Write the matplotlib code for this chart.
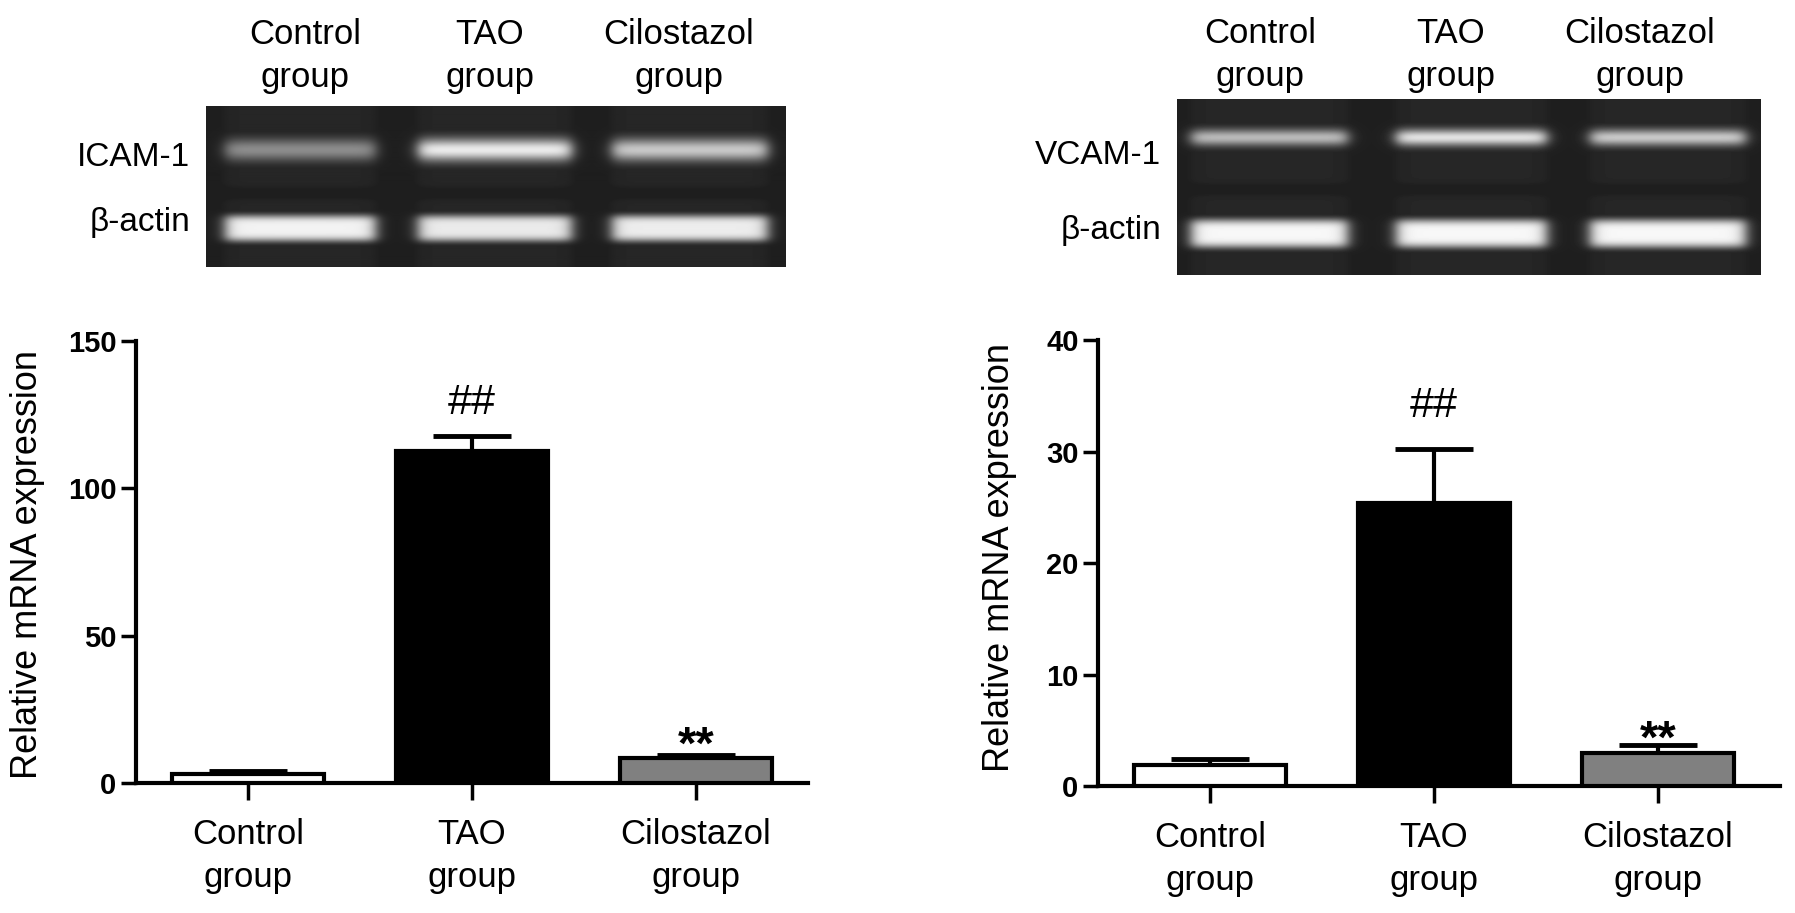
import numpy as np
import matplotlib.pyplot as plt

plt.rcParams['font.family'] = ['Liberation Sans', 'DejaVu Sans']

# bar chart data
groups = ['Control\ngroup', 'TAO\ngroup', 'Cilostazol\ngroup']
icam_mean = [3.2, 112.6, 8.6]
icam_sem = [0.8, 5.0, 0.9]
vcam_mean = [1.85, 25.4, 3.0]
vcam_sem = [0.6, 4.8, 0.7]
icam_ticks = [0, 50, 100, 150]
vcam_ticks = [0, 10, 20, 30, 40]
sig_marks = ['', '##', '**']
bar_colors = ['white', 'black', '#808080']

# gel band brightness per lane (0 = black, 1 = white)
icam_band = [0.55, 0.92, 0.78]
icam_actin = [0.95, 0.92, 0.93]
vcam_band = [0.72, 0.88, 0.78]
vcam_actin = [0.97, 0.97, 0.97]

W, H = 1795, 913
fig = plt.figure(figsize=(W / 100, H / 100), dpi=100)


def px_axes(x0, y0, x1, y1):
    return fig.add_axes([x0 / W, 1 - y1 / H, (x1 - x0) / W, (y1 - y0) / H])


def gel(box, lanes, rows, bright, names, name_y, col_x, col_y):
    x0, y0, x1, y1 = box
    w, h = x1 - x0, y1 - y0
    yy, xx = np.mgrid[0:h, 0:w]
    img = np.full((h, w), 0.05)
    for lx0, lx1 in lanes:
        lane = 1 / (1 + np.exp(-(xx - lx0 + 10) / 6)) / (1 + np.exp((xx - lx1 - 10) / 6))
        img = np.maximum(img, 0.05 + 0.10 * lane)
    # darker strip between the two rows
    mid = (rows[0][0] + rows[1][0]) / 2 + 4
    img -= 0.05 * np.exp(-0.5 * ((yy - mid) / 4) ** 2)
    for (cy, sig, pw), vals in zip(rows, bright):
        for (lx0, lx1), b in zip(lanes, vals):
            xp = 1 / (1 + np.exp(-(xx - lx0) / 4)) / (1 + np.exp((xx - lx1) / 4))
            yp = np.exp(-0.5 * np.abs((yy - cy) / sig) ** pw)
            img = np.maximum(img, 0.12 + (b - 0.12) * xp * yp)
    ax = px_axes(*box)
    ax.imshow(img, cmap='gray', vmin=0, vmax=1, aspect='auto', interpolation='bilinear')
    ax.axis('off')
    # row labels and column labels
    for name, ny in zip(names, name_y):
        fig.text((x0 - 16) / W, 1 - ny / H, name, ha='right', va='center', fontsize=24)
    for cx, g in zip(col_x, groups):
        fig.text(cx / W, 1 - col_y / H, g, ha='center', va='center',
                 fontsize=25, linespacing=1.4)


gel((206, 106, 786, 267), [(19, 169), (212, 365), (406, 561)],
    [(44, 8, 2), (122, 11, 4)], [icam_band, icam_actin], ['ICAM-1', 'β-actin'],
    [157, 222], [305, 490, 679], 56)
gel((1177, 99, 1761, 275), [(14, 170), (219, 369), (413, 568)],
    [(38, 6, 2), (134, 12, 4)], [vcam_band, vcam_actin], ['VCAM-1', 'β-actin'],
    [155, 230], [1260, 1451, 1640], 55)


def bar_panel(ax, means, sems, ticks, xmax, hash_off, star_off):
    x = np.arange(len(groups))
    ax.bar(x, means, width=0.68, color=bar_colors, edgecolor='black', linewidth=3, zorder=3)
    ax.errorbar(x, means, yerr=[np.zeros(len(sems)), sems], fmt='none', ecolor='black',
                elinewidth=3, capsize=28, capthick=3.5, zorder=2)
    for xi, m, s, mark in zip(x, means, sems, sig_marks):
        if mark == '##':
            ax.annotate(mark, (xi, m + s), xytext=(0, hash_off), textcoords='offset points',
                        ha='center', va='center', fontsize=31)
        elif mark == '**':
            ax.annotate(mark, (xi, m + s), xytext=(0, star_off), textcoords='offset points',
                        ha='center', va='center', fontsize=34, fontweight='bold')
    ax.set_xlim(-0.5, xmax)
    ax.set_ylim(ticks[0], ticks[-1])
    ax.set_yticks(ticks)
    ax.set_xticks(x)
    ax.set_xticklabels(groups, fontsize=25, linespacing=1.4)
    for sp in ['top', 'right']:
        ax.spines[sp].set_visible(False)
    for sp in ['left', 'bottom']:
        ax.spines[sp].set_linewidth(3)
    ax.tick_params(axis='y', direction='out', length=11, width=2.5, pad=3, labelsize=21)
    ax.tick_params(axis='x', direction='out', length=12, width=2.5, pad=13)
    for lbl in ax.get_yticklabels():
        lbl.set_fontweight('bold')
    ax.set_ylabel('Relative mRNA expression', fontsize=26, va='center')


ax1 = px_axes(136, 341, 808, 783)
bar_panel(ax1, icam_mean, icam_sem, icam_ticks, 2.5, 24, 6)
ax1.yaxis.set_label_coords(-0.161, 0.495)

ax2 = px_axes(1098, 340, 1780, 786)
bar_panel(ax2, vcam_mean, vcam_sem, vcam_ticks, 2.545, 31, 3)
ax2.yaxis.set_label_coords(-0.144, 0.513)

fig.savefig('out.png', dpi=100)
